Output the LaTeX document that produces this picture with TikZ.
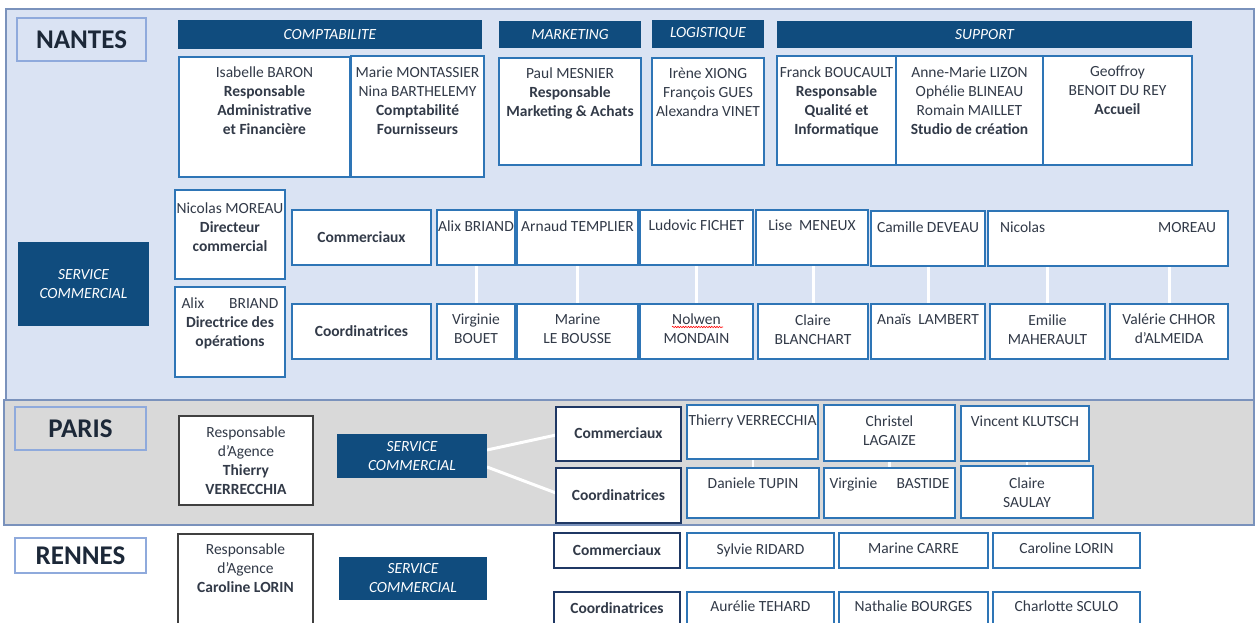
\documentclass[tikz,border=0pt]{standalone}
\usepackage{fontspec}
\setmainfont{Carlito}
\usetikzlibrary{calc,decorations.pathmorphing}
\pgfdeclarelayer{back}\pgfdeclarelayer{bgl}
\pgfsetlayers{back,bgl,main}
\definecolor{nbg}{RGB}{218,227,243}
\definecolor{pbg}{RGB}{217,217,217}
\definecolor{panb}{RGB}{122,146,188}
\definecolor{dkb}{RGB}{16,76,126}
\definecolor{bxb}{RGB}{46,117,182}
\definecolor{lblb}{RGB}{143,170,220}
\definecolor{tc}{RGB}{50,58,72}
\definecolor{titc}{RGB}{28,40,56}
\definecolor{navb}{RGB}{31,56,100}
\definecolor{gryb}{RGB}{64,64,64}
\newcommand\bodyf{\fontsize{15.5}{19}\selectfont}
\newcommand\titf{\fontsize{27}{32}\selectfont\bfseries}
\newcommand\hf{\fontsize{15.5}{19}\selectfont\itshape}
\newcommand\rb[6]{\node[#2, anchor=north west, minimum width={#5-#3}, minimum height={#6-#4}] (#1) at (#3,#4) {};}
\newcommand\rbt[7]{\node[#2, anchor=north west, minimum width={#5-#3}, minimum height={#6-#4}] (#1) at (#3,#4) {#7};}
\tikzset{
  boxbase/.style={inner sep=0, outer sep=0, rectangle},
  box/.style={boxbase, draw=bxb, fill=white, line width=1.3pt},
  nbox/.style={boxbase, draw=navb, fill=white, line width=1.3pt},
  gbox/.style={boxbase, draw=gryb, fill=white, line width=1.3pt},
  hdr/.style={boxbase, fill=dkb, text=white, font=\hf},
  scb/.style={boxbase, fill=dkb, text=white, font=\hf, align=center},
  lbl/.style={boxbase, draw=lblb, line width=1.3pt, font=\titf, text=titc},
  tx/.style={anchor=north, yshift=8.3pt, inner sep=0, outer sep=0, align=center, font=\bodyf, text=tc, execute at begin node=\strut},
  ml/.style={yshift=-3pt},
  wl/.style={white, line width=3pt},
  wl2/.style={white, line width=2.5pt},
}
\begin{document}
\begin{tikzpicture}[x=1pt,y=-1pt]
\useasboundingbox (0,0) rectangle (1256,623);
\clip (0,0) rectangle (1256,623);
\begin{pgfonlayer}{back}
\fill[white] (0,0) rectangle (1256,623);
\draw[fill=nbg, draw=panb, line width=1.2pt] (6,9) rectangle (1254,400);
\draw[fill=pbg, draw=panb, line width=1.2pt] (4,400) rectangle (1254,525);
\end{pgfonlayer}
% ---------- NANTES ----------
\rbt{nlbl}{lbl, fill=nbg}{17}{18}{146}{61}{NANTES}
\rbt{hc}{hdr}{178}{20}{482}{49}{COMPTABILITE}
\rbt{hm}{hdr}{499}{21}{641}{48}{MARKETING}
\rbt{hlog}{hdr}{652}{20}{764}{48}{LOGISTIQUE}
\rbt{hs}{hdr}{777}{21}{1192}{48}{SUPPORT}
\rb{b1}{box}{179}{57}{350}{177}
\rb{b2}{box}{351}{56}{484}{177}
\rb{bm}{box}{499}{58}{641}{165}
\rb{bl}{box}{652}{58}{764}{165}
\rb{s1}{box}{777}{56}{896}{165}
\rb{s2}{box}{896}{56}{1043}{165}
\rb{s3}{box}{1043}{56}{1192}{165}
\node[tx,ml] (b1t) at (264.5,72) {Isabelle BARON\\\textbf{Responsable}\\\textbf{Administrative}\\\textbf{et Financière}};
\node[tx,ml] (b2t) at (417.5,72) {Marie MONTASSIER\\Nina BARTHELEMY\\\textbf{Comptabilité}\\\textbf{Fournisseurs}};
\node[tx,ml] (bmt) at (570,73) {Paul MESNIER\\\textbf{Responsable}\\\textbf{Marketing \& Achats}};
\node[tx,ml] (blt) at (708,73) {Irène XIONG\\François GUES\\Alexandra VINET};
\node[tx,ml] (s1t) at (836.5,72) {Franck BOUCAULT\\\textbf{Responsable}\\\textbf{Qualité et}\\\textbf{Informatique}};
\node[tx,ml] (s2t) at (969.5,72) {Anne-Marie LIZON\\Ophélie BLINEAU\\Romain MAILLET\\\textbf{Studio de création}};
\node[tx,ml] (s3t) at (1117.5,71) {Geoffroy\\BENOIT DU REY\\\textbf{Accueil}};
% row 2
\rbt{nsc}{scb}{18}{242}{149}{326}{SERVICE\\COMMERCIAL}
\rb{dir}{box}{175}{190}{285}{279}
\rb{dop}{box}{175}{287}{285}{377}
\rb{ncom}{box}{292}{210}{431}{265}
\rb{ncoo}{box}{292}{304}{431}{359}
\rb{c1}{box}{437}{210}{515}{265}
\rb{c2}{box}{517}{210}{638}{265}
\rb{c3}{box}{640}{210}{753}{265}
\rb{c4}{box}{756}{210}{868}{265}
\rb{c5}{box}{871}{211}{985}{266}
\rb{c6}{box}{988}{211}{1228}{266}
\rb{k1}{box}{437}{304}{515}{359}
\rb{k2}{box}{517}{304}{638}{359}
\rb{k3}{box}{640}{304}{753}{359}
\rb{k4}{box}{758}{304}{868}{359}
\rb{k5}{box}{871}{304}{985}{359}
\rb{k6}{box}{990}{304}{1105}{359}
\rb{k7}{box}{1110}{304}{1228}{359}
\begin{pgfonlayer}{bgl}
\draw[wl] (k1.north) -- (k1.north |- c1.south);
\draw[wl] (k2.north) -- (k2.north |- c2.south);
\draw[wl] (k3.north) -- (k3.north |- c3.south);
\draw[wl] (k4.north) -- (k4.north |- c4.south);
\draw[wl] (k5.north) -- (k5.north |- c5.south);
\draw[wl] (k6.north) -- (k6.north |- c6.south);
\draw[wl] (k7.north) -- (k7.north |- c6.south);
\end{pgfonlayer}
\node[tx,ml] (dirt) at (230,208) {Nicolas MOREAU\\\textbf{Directeur}\\\textbf{commercial}};
\node[tx,ml] (dopt) at (230,303) {\hbox to 97pt{Alix\hfil BRIAND}\\\textbf{Directrice des}\\\textbf{opérations}};
\node[tx] (ncomt) at (361.5,237) {\textbf{Commerciaux}};
\node[tx] (ncoot) at (361.5,331) {\textbf{Coordinatrices}};
\node[tx] (c1t) at (476,226) {Alix BRIAND};
\node[tx] (c2t) at (577.5,226) {Arnaud TEMPLIER};
\node[tx] (c3t) at (696.5,225.5) {Ludovic FICHET};
\node[tx] (c4t) at (812,225.5) {Lise\ \ MENEUX};
\node[tx] (c5t) at (928,227.5) {Camille DEVEAU};
\node[tx] (c6t) at (1108,227.5) {\hbox to 216pt{Nicolas\hfil MOREAU}};
\node[tx,ml] (k1t) at (476,319) {Virginie\\BOUET};
\node[tx,ml] (k2t) at (577.5,319) {Marine\\LE BOUSSE};
\node[tx,ml] (k3t) at (696.5,319) {Nolwen\\MONDAIN};
\node[tx,ml] (k4t) at (813,320) {Claire\\BLANCHART};
\node[tx] (k5t) at (928,319) {Anaïs\ \ LAMBERT};
\node[tx,ml] (k6t) at (1047.5,320) {Emilie\\MAHERAULT};
\node[tx,ml] (k7t) at (1169,319) {Valérie CHHOR\\d’ALMEIDA};
\draw[red, line width=0.6pt, decorate, decoration={snake, amplitude=0.7pt, segment length=2.6pt}] (672,327) -- (723,327);
% ---------- PARIS ----------
\rbt{plbl}{lbl, fill=pbg}{15}{407}{146}{450}{PARIS}
\rb{presp}{gbox}{179}{416}{313}{505}
\rbt{psc}{scb}{337}{434}{487}{478}{SERVICE\\COMMERCIAL}
\rb{pcom}{nbox}{556}{407}{681}{461}
\rb{pcoo}{nbox}{556}{468}{681}{523}
\rb{pc1}{box}{687}{405}{818}{459}
\rb{pc2}{box}{824}{405}{955}{461}
\rb{pc3}{box}{961}{406}{1089}{461}
\rb{pk1}{box}{687}{468}{819}{518}
\rb{pk2}{box}{824}{468}{955}{518}
\rb{pk3}{box}{961}{466}{1093}{518}
\begin{pgfonlayer}{bgl}
\draw[wl] ($(psc.east)+(0,-6)$) -- ($(pcom.west)+(0,1)$);
\draw[wl] ($(psc.east)+(0,11)$) -- ($(pcoo.west)+(0,-2.5)$);
\draw[wl2] (pk1.north) -- (pk1.north |- pc1.south);
\draw[wl2] (pk2.north) -- (pk2.north |- pc2.south);
\draw[wl2] (pk3.north) -- (pk3.north |- pc3.south);
\end{pgfonlayer}
\node[tx,ml] (prespt) at (246,432) {Responsable\\d’Agence\\\textbf{Thierry}\\\textbf{VERRECCHIA}};
\node[tx] (pcomt) at (618.5,433) {\textbf{Commerciaux}};
\node[tx] (pcoot) at (618.5,495) {\textbf{Coordinatrices}};
\node[tx] (pc1t) at (752.5,420.5) {Thierry VERRECCHIA};
\node[tx,ml] (pc2t) at (889.5,421.5) {Christel\\LAGAIZE};
\node[tx] (pc3t) at (1025,421.5) {Vincent KLUTSCH};
\node[tx] (pk1t) at (753,483) {Daniele TUPIN};
\node[tx] (pk2t) at (889.5,483) {\hbox to 120pt{Virginie\hfil BASTIDE}};
\node[tx,ml] (pk3t) at (1027,483) {Claire\\SAULAY};
% ---------- RENNES ----------
\rbt{rlbl}{lbl, fill=white}{15}{538}{146}{573}{RENNES}
\rb{rresp}{gbox}{178}{534}{313}{645}
\rbt{rsc}{scb}{339}{557}{487}{600}{SERVICE\\COMMERCIAL}
\rb{rcom}{nbox}{554}{533}{680}{568}
\rb{rcoo}{nbox}{554}{592}{680}{640}
\rb{rc1}{box}{687}{533}{834}{568}
\rb{rc2}{box}{839}{533}{988}{568}
\rb{rc3}{box}{993}{533}{1140}{568}
\rb{rk1}{box}{687}{592}{834}{640}
\rb{rk2}{box}{839}{592}{988}{640}
\rb{rk3}{box}{993}{592}{1140}{640}
\node[tx,ml] (rrespt) at (245.5,549) {Responsable\\d’Agence\\\textbf{Caroline LORIN}};
\node[tx] (rcomt) at (617,550) {\textbf{Commerciaux}};
\node[tx] (rcoot) at (617,608) {\textbf{Coordinatrices}};
\node[tx] (rc1t) at (760.5,549) {Sylvie RIDARD};
\node[tx] (rc2t) at (913.5,548) {Marine CARRE};
\node[tx] (rc3t) at (1066.5,548) {Caroline LORIN};
\node[tx] (rk1t) at (760.5,606.5) {Aurélie TEHARD};
\node[tx] (rk2t) at (913.5,606) {Nathalie BOURGES};
\node[tx] (rk3t) at (1066.5,606) {Charlotte SCULO};
\end{tikzpicture}
\end{document}
